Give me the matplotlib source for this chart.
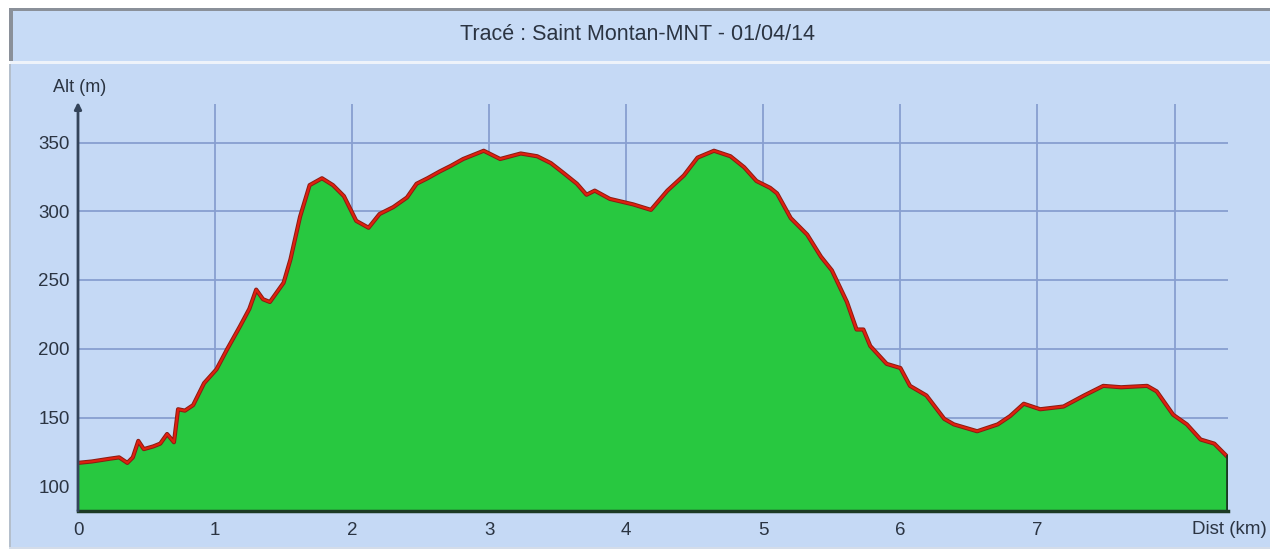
import matplotlib.pyplot as plt
from matplotlib.patches import Rectangle

# Profil altimétrique
dist = [0.00, 0.10, 0.23, 0.30, 0.36, 0.40, 0.44, 0.48, 0.55, 0.60,
        0.65, 0.70, 0.73, 0.78, 0.84, 0.92, 1.01, 1.09, 1.18, 1.25,
        1.30, 1.35, 1.40, 1.50, 1.55, 1.62, 1.69, 1.78, 1.86, 1.94,
        2.03, 2.12, 2.20, 2.30, 2.40, 2.47, 2.55, 2.64, 2.72, 2.81,
        2.96, 3.08, 3.23, 3.35, 3.45, 3.54, 3.64, 3.71, 3.77, 3.88,
        4.05, 4.18, 4.30, 4.42, 4.52, 4.64, 4.76, 4.86, 4.95, 5.05,
        5.10, 5.20, 5.32, 5.42, 5.50, 5.61, 5.68, 5.73, 5.78, 5.90,
        6.00, 6.07, 6.19, 6.32, 6.39, 6.56, 6.71, 6.80, 6.90, 7.02,
        7.19, 7.34, 7.48, 7.61, 7.80, 7.87, 7.99, 8.09, 8.19, 8.29,
        8.38]
alt = [117, 118, 120, 121, 117, 121, 133, 127, 129, 131,
       138, 132, 156, 155, 159, 175, 185, 200, 216, 229,
       243, 236, 234, 248, 265, 296, 319, 324, 319, 311,
       293, 288, 298, 303, 310, 320, 324, 329, 333, 338,
       344, 338, 342, 340, 335, 328, 320, 312, 315, 309,
       305, 301, 315, 326, 339, 344, 340, 332, 322, 317,
       313, 295, 283, 267, 257, 234, 214, 214, 202, 189,
       186, 173, 166, 149, 145, 140, 145, 151, 160, 156,
       158, 166, 173, 172, 173, 169, 152, 145, 134, 131,
       122]

x_ticks = [0, 1, 2, 3, 4, 5, 6, 7, 8]
x_labels = ['0', '1', '2', '3', '4', '5', '6', '7', '']
y_ticks = [100, 150, 200, 250, 300, 350]
y_min, y_max = 82, 378
x_max = 8.39

title = 'Tracé : Saint Montan-MNT - 01/04/14'

plt.rcParams['font.family'] = ['Liberation Sans', 'DejaVu Sans']

W, H = 1270, 550
fig = plt.figure(figsize=(W / 100, H / 100), dpi=100)
fig.patch.set_facecolor('white')

bg = '#c5d9f5'
txt = '#2b3442'


def rect(x0, y0, x1, y1, color):
    # coordonnées en pixels (origine en haut à gauche)
    fig.add_artist(Rectangle((x0 / W, 1 - y1 / H), (x1 - x0) / W, (y1 - y0) / H,
                             transform=fig.transFigure, facecolor=color,
                             edgecolor='none', zorder=0))


# Cadre : bandeau titre + zone graphique
rect(10, 10, W, 61, '#c7dbf6')
rect(10, 64, W, 548, bg)
rect(10, 61, W, 64, '#eef3fa')
rect(9, 8, W, 11, '#8a9099')
rect(9, 8, 13, 61, '#8a9099')
rect(9, 64, 11, 548, '#b4bfcc')
rect(9, 547, W, 549, '#d4dce8')

fig.text(637 / W, 1 - 35 / H, title, ha='center', va='center',
         fontsize=15.5, color=txt)

ax = fig.add_axes([78 / W, 1 - 511 / H, (1228 - 78) / W, (511 - 104) / H])
ax.set_facecolor(bg)
ax.set_xlim(0, x_max)
ax.set_ylim(y_min, y_max)

ax.set_xticks(x_ticks)
ax.set_xticklabels(x_labels)
ax.set_yticks(y_ticks)
ax.tick_params(length=0, labelsize=13.5, colors=txt)
ax.tick_params(axis='x', pad=8)
ax.tick_params(axis='y', pad=6)

ax.grid(True, color='#889fd0', linewidth=1.3)
ax.set_axisbelow(True)

for s in ['top', 'right', 'left']:
    ax.spines[s].set_visible(False)
ax.spines['bottom'].set_color('#1c3a24')
ax.spines['bottom'].set_linewidth(2.5)
ax.spines['bottom'].set_zorder(4)

ax.fill_between(dist, alt, y_min, color='#28c840', linewidth=0, zorder=2)
ax.plot(dist, alt, color='#8a1c12', linewidth=3.0, zorder=3)
ax.plot(dist, alt, color='#e0200f', linewidth=1.6, zorder=3)
ax.plot([dist[-1], dist[-1]], [y_min, alt[-1]], color='#1c3a24', linewidth=2, zorder=3)

# axe vertical avec flèche
ax.annotate('', xy=(0, 1.005), xycoords='axes fraction', xytext=(0, 0),
            arrowprops=dict(arrowstyle='-|>', color='#34445a', lw=2,
                            mutation_scale=10, shrinkA=0, shrinkB=0),
            zorder=5)

fig.text(80 / W, 1 - 88 / H, 'Alt (m)', ha='center', va='center',
         fontsize=13, color=txt)
fig.text(1229 / W, 1 - 530 / H, 'Dist (km)', ha='center', va='center',
         fontsize=13.5, color=txt)

fig.savefig('out.png', dpi=100, facecolor=fig.get_facecolor())
